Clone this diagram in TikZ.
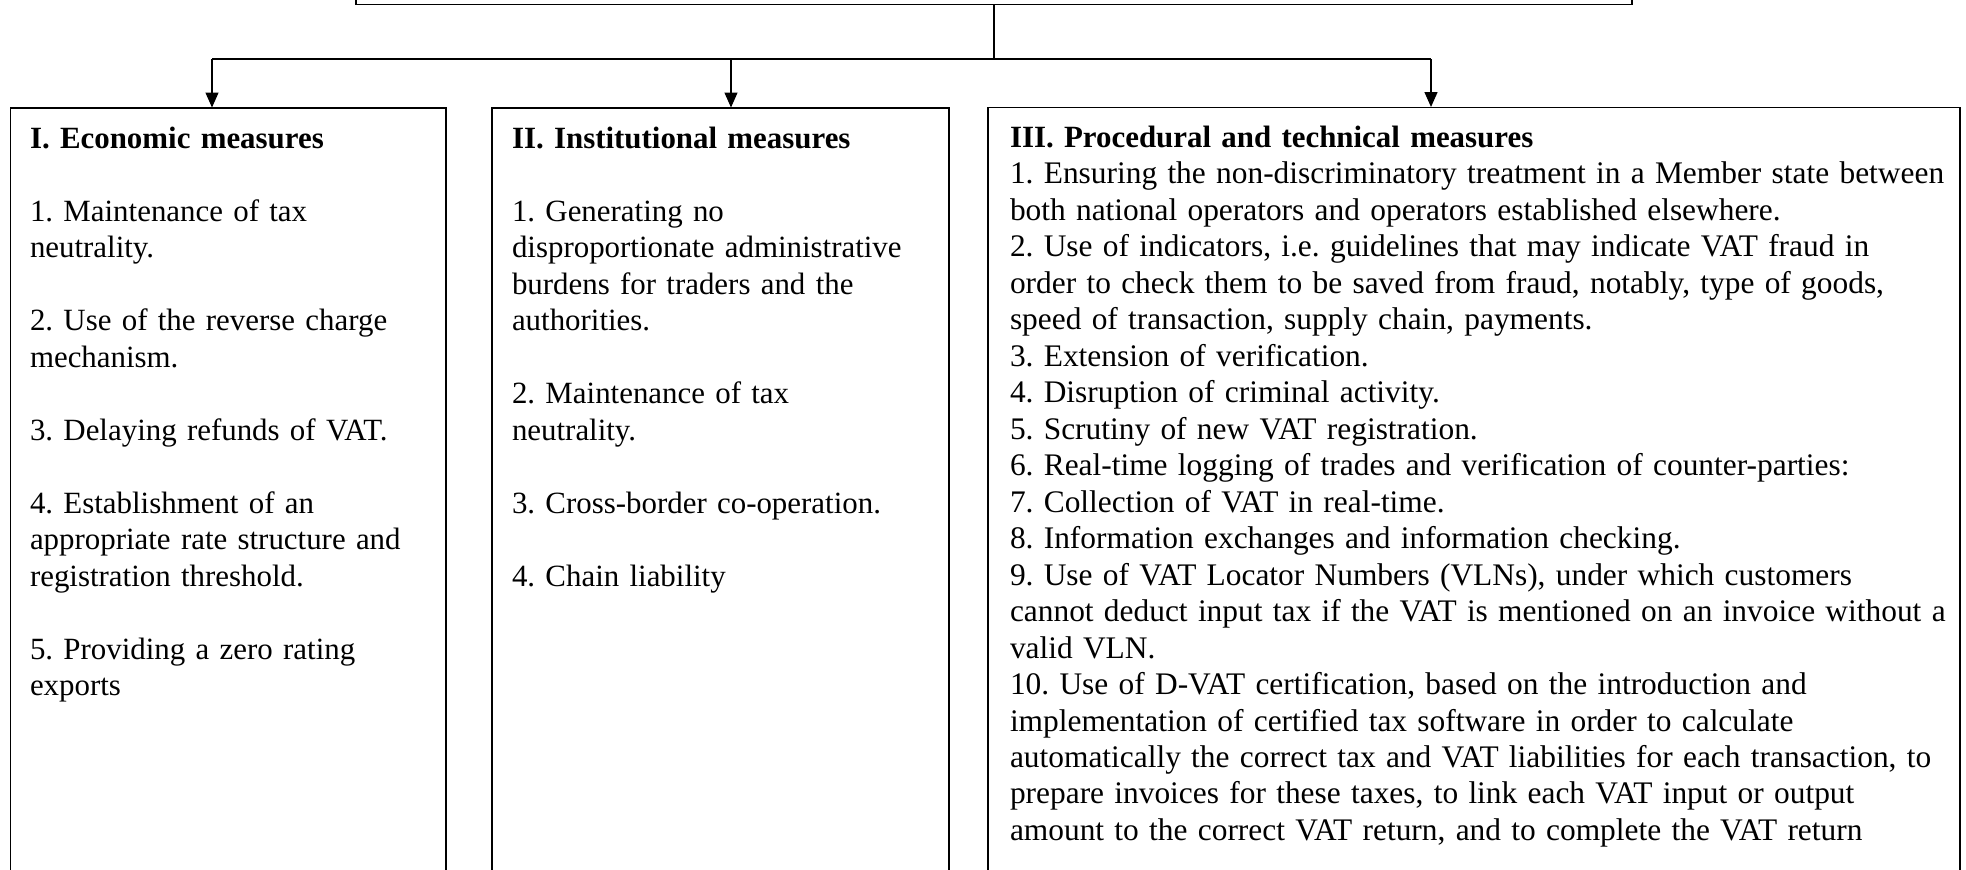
\documentclass[tikz,border=0pt]{standalone}
\usepackage{fontspec}
\setmainfont{Liberation Serif}
\usetikzlibrary{arrows.meta}
\begin{document}
\begin{tikzpicture}[x=1pt,y=-1pt,
  panel/.style={draw=black, line width=1.2pt, rectangle, inner sep=0pt, outer sep=0pt, anchor=north west},
  body/.style={anchor=base west, inner sep=0pt, outer sep=0pt, text width=1000pt, align=left,
    font=\fontsize{30.9}{36.5}\selectfont\frenchspacing},
  link/.style={draw=black, line width=1.4pt},
  arr/.style={link, -{Triangle[length=15pt,width=13pt]}, shorten >=0.5pt}]
\useasboundingbox (0,0) rectangle (1966,870);
\clip (0,0) rectangle (1966,870);
% top box (only its lower edge is visible)
\node[panel, anchor=south west, minimum width=1276pt, minimum height=120pt] (top) at (356,4.3) {};
% three boxes
\node[panel, minimum width=435.3pt, minimum height=900pt] (b1) at (10.7,108) {};
\node[panel, minimum width=457pt, minimum height=900pt] (b2) at (492,108) {};
\node[panel, minimum width=972pt, minimum height=900pt] (b3) at (988,107.5) {};
% connectors
\coordinate (hub) at (top.south |- 0,59);
\coordinate (jL) at (212,59);
\coordinate (jM) at (731,59);
\coordinate (jR) at (1431,59);
\draw[link] (top.south) -- (hub);
\draw[link] (jL) -- (jR);
\draw[arr] (jL) -- (jL |- b1.north);
\draw[arr] (jM) -- (jM |- b2.north);
\draw[arr] (jR) -- (jR |- b3.north);
% texts
\node[body] (t1) at (30,148) {\textbf{I. Economic measures}\\[\baselineskip]
1. Maintenance of tax\\
neutrality.\\[\baselineskip]
2. Use of the reverse charge\\
mechanism.\\[\baselineskip]
3. Delaying refunds of VAT.\\[\baselineskip]
4. Establishment of an\\
appropriate rate structure and\\
registration threshold.\\[\baselineskip]
5. Providing a zero rating\\
exports};
\node[body] (t2) at (512,148) {\textbf{II. Institutional measures}\\[\baselineskip]
1. Generating no\\
disproportionate administrative\\
burdens for traders and the\\
authorities.\\[\baselineskip]
2. Maintenance of tax\\
neutrality.\\[\baselineskip]
3. Cross-border co-operation.\\[\baselineskip]
4. Chain liability};
\node[body] (t3) at (1010,147) {\textbf{III. Procedural and technical measures}\\
\fontsize{31.4}{36.5}\selectfont
1. Ensuring the non-discriminatory treatment in a Member state between\\
both national operators and operators established elsewhere.\\
2. Use of indicators, i.e. guidelines that may indicate VAT fraud in\\
order to check them to be saved from fraud, notably, type of goods,\\
speed of transaction, supply chain, payments.\\
3. Extension of verification.\\
4. Disruption of criminal activity.\\
5. Scrutiny of new VAT registration.\\
6. Real-time logging of trades and verification of counter-parties:\\
7. Collection of VAT in real-time.\\
8. Information exchanges and information checking.\\
9. Use of VAT Locator Numbers (VLNs), under which customers\\
cannot deduct input tax if the VAT is mentioned on an invoice without a\\
valid VLN.\\
10. Use of D-VAT certification, based on the introduction and\\
implementation of certified tax software in order to calculate\\
automatically the correct tax and VAT liabilities for each transaction, to\\
prepare invoices for these taxes, to link each VAT input or output\\
amount to the correct VAT return, and to complete the VAT return};
\end{tikzpicture}
\end{document}
